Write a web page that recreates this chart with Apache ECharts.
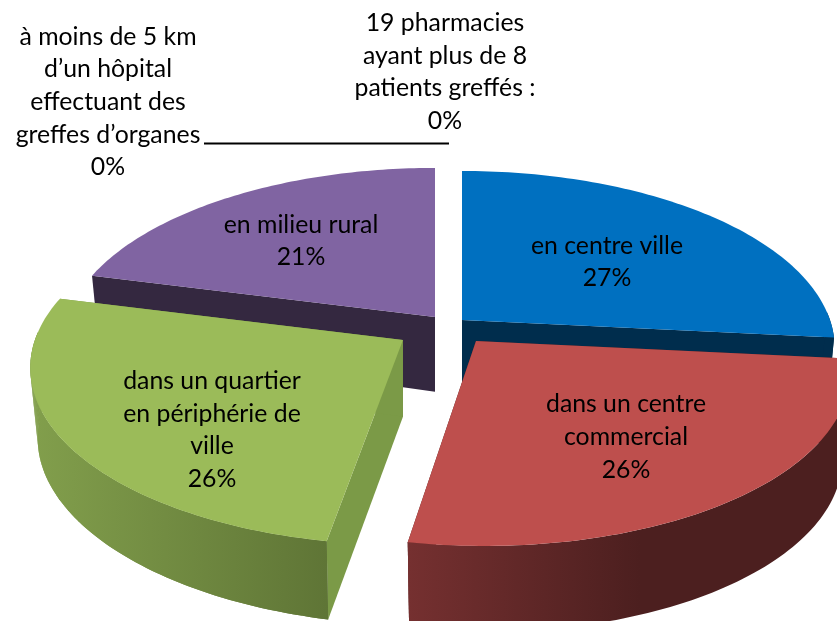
<!DOCTYPE html>
<html>
<head>
<meta charset="utf-8">
<style>html,body{margin:0;padding:0;background:#fff}#c{width:837px;height:621px}</style>
<script src="https://cdn.jsdelivr.net/npm/echarts@6/dist/echarts.min.js"></script>
</head>
<body>
<div id="c"></div>
<script>
// Data
const sliceNames = ["en centre ville", "dans un centre\ncommercial", "dans un quartier\nen périphérie de\nville", "en milieu rural"];
const sliceValues = [26.6, 26.2, 26.2, 21.0];
const zeroNames = ["à moins de 5 km\nd’un hôpital\neffectuant des\ngreffes d’organes", "19 pharmacies\nayant plus de 8\npatients greffés :"];
const zeroValues = [0, 0];

// Style and layout
const topColors = ["#0070C0", "#BE4F4D", "#9BBB59", "#8064A2"];
const sideColors = ["#002D4D", "#4C1F1F", "#7B9A47", "#342840"];
const wallStops = [
  null,
  [[408, "#753030"], [640, "#4C1F1F"]],
  [[30, "#829F4C"], [327, "#5F7536"]],
  null
];
const explodeX = [0.0625, 0.1005, -0.0980, -0.0109];
const explodeY = [0.0695, -0.0520, -0.0460, 0.0870];
const sliceSkew = [0, 0.04, 0, 0];
const wallDepth = [78, 86, 80, 78];
const paintOrder = [1, 3, 2, 0];
const labelCenters = [[607, 262], [626, 437], [212, 430], [301, 241]];
const zeroCenters = [[108, 102], [445, 72]];
const pie = { cx: 439, cy: 332, a: 368, b: 172.6, persp: 0.158 };
const font = "Lato, 'Open Sans', sans-serif";
const fontSize = 24.8, lineGap = 32.7;

const total = sliceValues.reduce((s, v) => s + v, 0);

function rimPoint(ax, ay, theta, skew) {
  const u = Math.sin(theta), v = Math.cos(theta), w = 1 + pie.persp * v;
  const dy = -pie.b * v / w;
  return { u, v, dx: pie.a * u / w + skew * dy, dy, ax, ay };
}
function topPt(p) { return [p.ax + p.dx, p.ay + p.dy]; }
function botPt(p, d) {
  const shrink = 1 - 0.12 * Math.max(0, -p.u);
  return [p.ax + p.dx * 0.98, p.ay + p.dy + d * shrink];
}

function textBlock(name, value, center) {
  const text = name + (name ? "\n" : "") + Math.round(value) + "%";
  const n = text.split("\n").length;
  return {
    type: "text", z2: 100, silent: true,
    style: {
      x: center[0], y: center[1], text, fill: "#000",
      font: fontSize + "px " + font, align: "center", verticalAlign: "middle",
      lineHeight: lineGap, height: n * lineGap
    }
  };
}

function renderSlice(params, api) {
  const i = params.dataIndex;
  const value = api.value(0);
  let before = 0;
  for (let k = 0; k < i; k++) before += sliceValues[k];
  const t0 = before / total * Math.PI * 2;
  const t1 = (before + value) / total * Math.PI * 2;
  const ax = pie.cx + explodeX[i] * pie.a;
  const ay = pie.cy - explodeY[i] * pie.b;
  const d = wallDepth[i];
  const steps = 80, rim = [];
  for (let s = 0; s <= steps; s++) rim.push(rimPoint(ax, ay, t0 + (t1 - t0) * s / steps, sliceSkew[i]));
  const apexTop = [ax, ay], apexBot = [ax, ay + d * 0.96];
  const tops = rim.map(topPt), bots = rim.map(p => botPt(p, d));
  const z = paintOrder[i] * 5;
  const side = sideColors[i];
  const wallFill = wallStops[i]
    ? new echarts.graphic.LinearGradient(wallStops[i][0][0], 0, wallStops[i][1][0], 0,
        [{ offset: 0, color: wallStops[i][0][1] }, { offset: 1, color: wallStops[i][1][1] }], true)
    : side;
  const children = [
    { type: "polygon", z2: z, shape: { points: [apexTop, tops[0], bots[0], apexBot] }, style: { fill: side } },
    { type: "polygon", z2: z, shape: { points: [apexTop, tops[steps], bots[steps], apexBot] }, style: { fill: side } }
  ];
  // Only the part of the rim that faces the viewer gets a wall
  const front = [];
  rim.forEach((p, s) => { if (p.v < 0.05) front.push(s); });
  // Filler quads on the left flank, so the silhouette follows the converging verticals
  for (let k = 0; k + 1 < front.length; k++) {
    const s = front[k];
    if (rim[s].u < 0) {
      children.push({
        type: "polygon", z2: z + 1,
        shape: { points: [tops[s], tops[s + 1], bots[s + 1], bots[s]] },
        style: { fill: wallFill }
      });
    }
  }
  // Main wall over the filler hides its seams
  if (front.length > 1) {
    const ft = front.map(s => tops[s]), fb = front.map(s => bots[s]).reverse();
    children.push({ type: "polygon", z2: z + 2, shape: { points: ft.concat(fb) }, style: { fill: wallFill } });
  }
  children.push({ type: "polygon", z2: z + 3, shape: { points: [apexTop].concat(tops) }, style: { fill: topColors[i] } });
  children.push(textBlock(sliceNames[i], Math.round(value), labelCenters[i]));
  return { type: "group", children };
}

function renderZero(params, api) {
  const i = params.dataIndex;
  return textBlock(zeroNames[i], api.value(0), zeroCenters[i]);
}

const chart = echarts.init(document.getElementById("c"), null, { renderer: "canvas" });
chart.setOption({
  animation: false,
  backgroundColor: "#fff",
  series: [
    { type: "custom", coordinateSystem: "none", silent: true, renderItem: renderSlice, data: sliceValues.map(v => [v]) },
    { type: "custom", coordinateSystem: "none", silent: true, renderItem: renderZero, data: zeroValues.map(v => [v]) }
  ],
  graphic: [{
    type: "line", z: 50, silent: true,
    shape: { x1: 204, y1: 143.5, x2: 449, y2: 143.5 },
    style: { stroke: "#000", lineWidth: 2 }
  }]
});
</script>
</body>
</html>
